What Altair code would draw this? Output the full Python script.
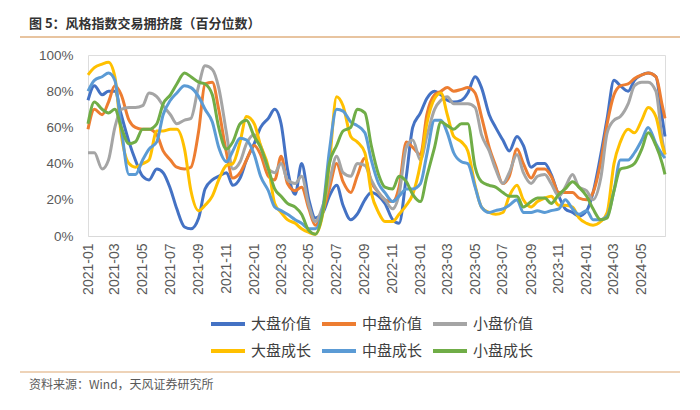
import altair as alt
import pandas as pd

# ---- data (percentile, %) : semi-monthly readings ----
dates = [f"{y}/{m:02d}/{d:02d}" for y in range(2021, 2025) for m in range(1, 13) for d in (1, 15)][:84] + ["2024/06/21"]

series_names = ["大盘价值", "中盘价值", "小盘价值", "大盘成长", "中盘成长", "小盘成长"]
colors = ["#4472C4", "#ED7D31", "#A5A5A5", "#FFC000", "#5B9BD5", "#70AD47"]

large_value = [75, 83, 78, 80, 80, 67, 52, 42, 33, 31, 37, 35, 26, 15, 5, 4, 10, 26, 31, 33, 35, 28, 32, 42,
               51, 60, 65, 70, 62, 37, 23, 40, 20, 10, 13, 22, 28, 17, 9, 12, 20, 24, 22, 18, 9, 7, 33, 60,
               68, 76, 80, 78, 75, 74, 75, 79, 88, 82, 67, 60, 53, 47, 55, 50, 38, 40, 40, 34, 22, 15, 13, 11,
               14, 24, 45, 65, 86, 83, 80, 86, 89, 90, 88, 65, 55]
mid_value = [59, 70, 67, 74, 83, 78, 64, 60, 59, 59, 56, 47, 42, 38, 37, 38, 58, 84, 85, 70, 46, 32, 35, 42,
             50, 45, 33, 31, 44, 29, 25, 27, 15, 6, 14, 26, 40, 30, 24, 33, 43, 30, 24, 20, 19, 27, 52, 49,
             45, 67, 78, 80, 82, 80, 81, 82, 79, 66, 49, 39, 29, 33, 48, 40, 32, 37, 37, 33, 24, 24, 24, 21,
             20, 24, 41, 62, 78, 83, 84, 87, 89, 90, 88, 72, 65]
small_value = [46, 46, 37, 42, 60, 70, 71, 71, 72, 79, 77, 72, 67, 62, 64, 65, 83, 94, 92, 82, 57, 37, 41, 51,
               56, 50, 37, 35, 40, 31, 29, 33, 17, 8, 17, 30, 44, 35, 33, 40, 39, 31, 24, 20, 15, 23, 49, 53,
               42, 55, 70, 75, 77, 73, 73, 73, 71, 56, 47, 37, 29, 35, 45, 35, 29, 33, 34, 29, 22, 27, 34, 27,
               25, 20, 32, 57, 64, 66, 73, 83, 85, 85, 80, 53, 45]
large_growth = [89, 93, 95, 96, 88, 56, 40, 38, 40, 42, 58, 58, 59, 59, 48, 25, 14, 17, 22, 31, 39, 40, 52, 66,
                62, 50, 38, 18, 13, 9, 7, 4, 2, 1, 13, 40, 77, 72, 55, 52, 46, 24, 13, 8, 8, 12, 17, 23,
                40, 62, 76, 79, 67, 55, 52, 47, 28, 16, 13, 12, 13, 22, 28, 20, 16, 19, 21, 22, 17, 17, 16, 10,
                7, 6, 8, 13, 40, 52, 59, 57, 64, 71, 66, 50, 45]
mid_growth = [80, 86, 88, 90, 86, 60, 34, 34, 42, 48, 52, 67, 75, 79, 83, 82, 77, 70, 63, 49, 41, 47, 54, 53,
              45, 33, 25, 16, 14, 12, 9, 7, 4, 4, 16, 47, 70, 69, 63, 61, 57, 42, 29, 24, 19, 22, 26, 26,
              29, 45, 64, 64, 57, 46, 41, 40, 27, 16, 13, 14, 15, 17, 20, 13, 13, 14, 13, 14, 15, 20, 15, 12,
              14, 9, 9, 11, 25, 42, 42, 46, 53, 60, 51, 45, 43]
small_growth = [62, 74, 70, 68, 70, 60, 51, 52, 59, 59, 62, 73, 78, 84, 90, 88, 85, 84, 78, 60, 48, 52, 62, 64,
                55, 49, 37, 26, 22, 18, 16, 12, 3, 1, 14, 40, 50, 58, 60, 70, 68, 50, 34, 27, 26, 33, 30, 23,
                19, 33, 49, 63, 61, 59, 62, 62, 38, 30, 28, 27, 24, 22, 22, 16, 19, 21, 21, 18, 23, 26, 30, 27,
                22, 15, 9, 10, 25, 37, 38, 40, 48, 57, 50, 40, 34]

all_series = [large_value, mid_value, small_value, large_growth, mid_growth, small_growth]

title_text = "图 5：风格指数交易拥挤度（百分位数）"
source_text = "资料来源：Wind，天风证券研究所"

rows = []
for name, vals in zip(series_names, all_series):
    for d, v in zip(dates, vals):
        rows.append({"date": d, "series": name, "value": v / 100.0})
df = pd.DataFrame(rows)

tick_values = [alt.DateTime(year=2021 + (k * 2) // 12, month=(k * 2) % 12 + 1, date=1) for k in range(21)]

CJK = "Noto Sans CJK SC"
AXF = "Liberation Sans"

x_enc = alt.X("date:T",
              scale=alt.Scale(domain=[alt.DateTime(year=2021, month=1, date=1),
                                      alt.DateTime(year=2024, month=6, date=21)]),
              axis=alt.Axis(format="%Y-%m", values=tick_values, labelAngle=270, labelPadding=7,
                            labelFontSize=14, labelFont=AXF, labelColor="#595959",
                            domainColor="#D9D9D9", domainWidth=1.2, ticks=False, grid=False,
                            labelOverlap=False, labelFlush=False),
              title=None)
y_enc = alt.Y("value:Q",
              scale=alt.Scale(domain=[0, 1]),
              axis=alt.Axis(format=".0%", values=[0, 0.2, 0.4, 0.6, 0.8, 1.0], domain=False, ticks=False,
                            grid=False, labelPadding=15, labelFontSize=13.5, labelFont=AXF,
                            labelColor="#595959"),
              title=None)
color_enc = alt.Color("series:N",
                      scale=alt.Scale(domain=series_names, range=colors),
                      legend=alt.Legend(title=None, orient="none", legendX=121, legendY=250, columns=3,
                                        direction="horizontal",
                                        symbolType="stroke", symbolSize=1156, symbolStrokeWidth=4,
                                        labelFontSize=15, labelFont=CJK, labelColor="#404040",
                                        labelOffset=4, columnPadding=2, rowPadding=0))

line_layers = []
for name in series_names:
    line_layers.append(
        alt.Chart(df).transform_filter(alt.datum.series == name)
        .mark_line(strokeWidth=3, interpolate="monotone", strokeJoin="round")
        .encode(x=x_enc, y=y_enc, color=color_enc)
    )

title_df = pd.DataFrame({"t": [title_text]})
source_df = pd.DataFrame({"t": [source_text]})

title_mark = alt.Chart(title_df).mark_text(align="left", baseline="middle", fontSize=13, fontWeight="bold",
                                           font=CJK, color="#333333").encode(
    x=alt.value(-59), y=alt.value(-31), text="t:N")
top_rule = alt.Chart(title_df).mark_rule(color="#E8C4A0", strokeWidth=2).encode(
    x=alt.value(-68), x2=alt.value(592), y=alt.value(-18))
bottom_rule = alt.Chart(source_df).mark_rule(color="#E8C4A0", strokeWidth=1.5).encode(
    x=alt.value(-68), x2=alt.value(592), y=alt.value(317))
source_mark = alt.Chart(source_df).mark_text(align="left", baseline="middle", fontSize=12,
                                             font=CJK, color="#595959").encode(
    x=alt.value(-59), y=alt.value(330), text="t:N")

chart = alt.layer(*line_layers, title_mark, top_rule, bottom_rule, source_mark).properties(
    width=577, height=181,
    padding={"left": 80, "top": 47, "right": 20, "bottom": 165},
    autosize="none",
).configure_view(stroke=None).configure(background="white")

chart.save("out.html", embed_options={"renderer": "svg", "actions": False})
